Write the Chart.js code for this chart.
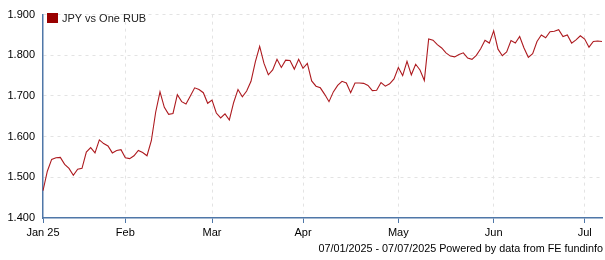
<!DOCTYPE html>
<html>
<head>
<meta charset="utf-8">
<script src="https://cdn.jsdelivr.net/npm/chart.js@4"></script>
<style>
    html, body { margin: 0; padding: 0; background: #fff; }
    #wrap { position: relative; width: 605px; height: 260px; font-family: "Liberation Sans", Arial, sans-serif; }
    #legend { position: absolute; left: 47px; top: 12px; font-size: 11px; color: #222; display: flex; align-items: center; }
    #legend span.box { width: 11px; height: 10px; background: #990000; margin-right: 4px; display: inline-block; }
    #footer { position: absolute; right: 2px; top: 242px; font-size: 10.8px; color: #000; }
</style>
</head>
<body>
<div id="wrap">
    <canvas id="fxChart" width="605" height="260"></canvas>
    <div id="legend"><span class="box"></span>JPY vs One RUB</div>
    <div id="footer">07/01/2025 - 07/07/2025 Powered by data from FE fundinfo</div>
</div>
<script>
// ====== Data ======
const SERIES_NAME = "JPY vs One RUB";
const START_DATE = "2025-01-07";
const END_DATE = "2025-07-07";

// JPY per RUB, one value per trading day (weekdays) from 7 Jan to 7 Jul 2025
const rates = [
    1.467, 1.515, 1.544, 1.548, 1.549, 1.532, 1.522, 1.505, 1.520, 1.522,
    1.562, 1.573, 1.560, 1.592, 1.583, 1.577, 1.560, 1.566, 1.568, 1.548,
    1.546, 1.553, 1.566, 1.561, 1.553, 1.590, 1.660, 1.710, 1.672, 1.655,
    1.657, 1.703, 1.686, 1.680, 1.700, 1.720, 1.716, 1.708, 1.682, 1.690,
    1.658, 1.646, 1.656, 1.641, 1.684, 1.716, 1.698, 1.712, 1.736, 1.784,
    1.822, 1.780, 1.752, 1.764, 1.790, 1.770, 1.788, 1.787, 1.766, 1.790,
    1.768, 1.780, 1.737, 1.724, 1.720, 1.704, 1.686, 1.710, 1.726, 1.736,
    1.732, 1.708, 1.732, 1.732, 1.731, 1.726, 1.713, 1.714, 1.733, 1.724,
    1.730, 1.742, 1.770, 1.750, 1.785, 1.752, 1.778, 1.764, 1.738, 1.840,
    1.837, 1.826, 1.818, 1.806, 1.798, 1.796, 1.802, 1.806, 1.793, 1.790,
    1.800, 1.816, 1.837, 1.830, 1.860, 1.815, 1.799, 1.808, 1.836, 1.830,
    1.846, 1.818, 1.795, 1.804, 1.834, 1.850, 1.843, 1.858, 1.859, 1.863,
    1.846, 1.850, 1.830, 1.838, 1.848, 1.840, 1.820, 1.834, 1.835, 1.834
];

// Month tick labels (first trading day of each month)
const monthLabels = ["Jan 25", "Feb", "Mar", "Apr", "May", "Jun", "Jul"];
const yTicks = [1.4, 1.5, 1.6, 1.7, 1.8, 1.9];

// ====== Categories: weekdays between start and end ======
function tradingDays(from, to) {
    const out = [];
    const d = new Date(from + "T00:00:00Z");
    const end = new Date(to + "T00:00:00Z");
    while (d <= end) {
        const wd = d.getUTCDay();
        if (wd !== 0 && wd !== 6) out.push(d.toISOString().slice(0, 10));
        d.setUTCDate(d.getUTCDate() + 1);
    }
    return out;
}
const days = tradingDays(START_DATE, END_DATE);

// index -> month label, for the first day of each month in the list
const monthStart = {};
let m = 0;
days.forEach((day, i) => {
    const month = day.slice(0, 7);
    if (i === 0 || month !== days[i - 1].slice(0, 7)) {
        monthStart[i] = monthLabels[m++];
    }
});

const AXIS_BLUE = "#4f77a8";
const GRID = "#e3e3e3";

new Chart(document.getElementById("fxChart"), {
    type: "line",
    data: {
        labels: days,
        datasets: [{
            label: SERIES_NAME,
            data: rates,
            borderColor: "#ad1a1f",
            borderWidth: 1.1,
            pointRadius: 0,
            tension: 0,
            fill: false
        }]
    },
    options: {
        responsive: false,
        animation: false,
        layout: { padding: { top: 9, right: 1, left: 0, bottom: 0 } },
        plugins: { legend: { display: false }, tooltip: { enabled: false } },
        scales: {
            x: {
                type: "category",
                offset: false,
                afterFit: (s) => { s.height = 42; },
                border: { color: AXIS_BLUE, width: 1.5, dash: [3, 4] },
                grid: {
                    color: (c) => (c.index in monthStart && c.index > 0) ? GRID : "rgba(0,0,0,0)",
                    tickColor: (c) => (c.index in monthStart) ? AXIS_BLUE : "rgba(0,0,0,0)",
                    tickLength: 5
                },
                ticks: {
                    autoSkip: false,
                    maxRotation: 0,
                    padding: 3,
                    color: "#000",
                    font: { family: "Liberation Sans", size: 11 },
                    callback: (v, i) => monthStart[i] || ""
                }
            },
            y: {
                min: 1.4,
                max: 1.9,
                afterFit: (s) => { s.width = 43; },
                afterBuildTicks: (s) => { s.ticks = yTicks.map((v) => ({ value: v })); },
                border: { color: AXIS_BLUE, width: 1.5, dash: [3, 4] },
                grid: {
                    color: (c) => c.index === 0 ? "rgba(0,0,0,0)" : GRID,
                    drawTicks: false
                },
                ticks: {
                    padding: 8,
                    color: "#000",
                    font: { family: "Liberation Sans", size: 11 },
                    callback: (v) => Number(v).toFixed(3)
                }
            }
        }
    }
});
</script>
</body>
</html>
